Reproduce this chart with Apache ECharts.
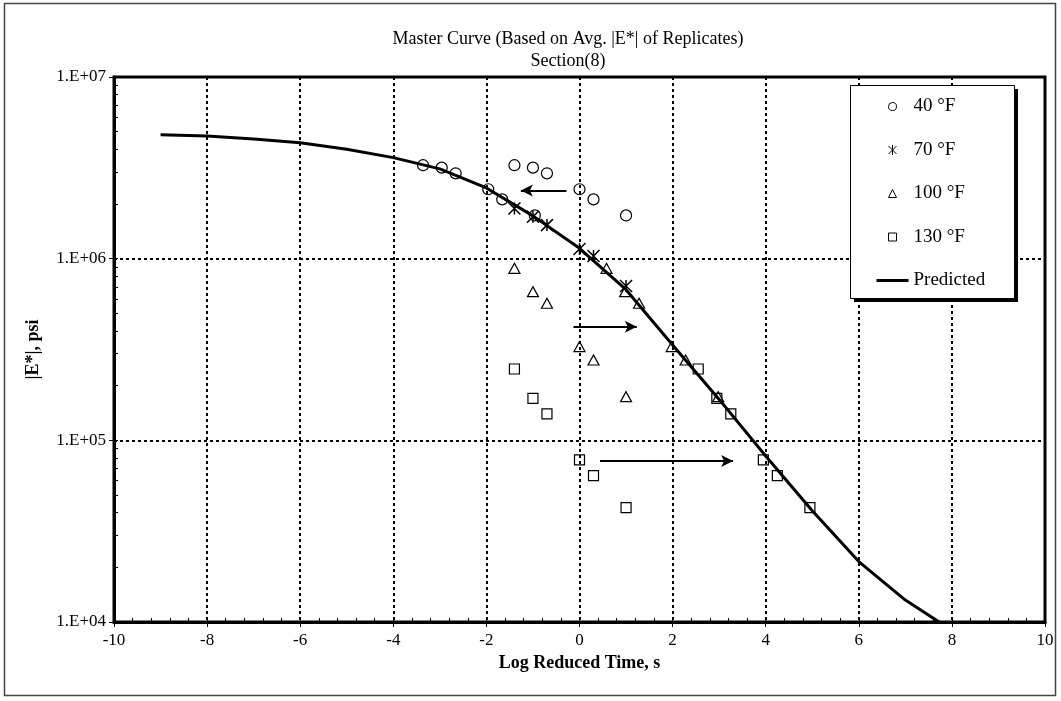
<!DOCTYPE html>
<html>
<head>
<meta charset="utf-8">
<script src="https://cdn.jsdelivr.net/npm/echarts@6/dist/echarts.min.js"></script>
<style>
html,body{margin:0;padding:0;background:#fff;}
#chart{width:1061px;height:701px;}
</style>
</head>
<body>
<div id="chart"></div>
<script>
// ---- data ----
const titleLines = ['Master Curve (Based on Avg. |E*| of Replicates)', 'Section(8)'];
const xAxisName = 'Log Reduced Time, s';
const yAxisName = '|E*|, psi';
const seriesNames = ['40 °F', '70 °F', '100 °F', '130 °F', 'Predicted'];

// raw log(time) of the test frequencies
const logTimeRaw = [-1.398, -1, -0.699, 0, 0.301, 1];

// measured |E*| (psi)
const E40 = [3.27e6, 3.17e6, 2.95e6, 2.41e6, 2.12e6, 1.73e6];
const E70 = [1.89e6, 1.70e6, 1.53e6, 1.13e6, 1.035e6, 7.08e5];
const E100 = [8.85e5, 6.58e5, 5.68e5, 3.28e5, 2.77e5, 1.74e5];
const E130 = [2.47e5, 1.70e5, 1.40e5, 7.80e4, 6.39e4, 4.26e4];

// shifted log reduced time
const x40Shifted = [-3.36, -2.96, -2.66, -1.96, -1.66, -0.96];
const x70Shifted = [-1.398, -1, -0.699, 0, 0.301, 1];
const x100Shifted = [0.58, 0.98, 1.28, 1.98, 2.28, 2.98];
const x130Shifted = [2.55, 2.95, 3.25, 3.95, 4.25, 4.95];

// predicted master curve
const predX = [-9, -8, -7, -6, -5, -4, -3, -2, -1, 0, 1, 2, 3, 4, 5, 6, 7, 8];
const predE = [4.81e6, 4.73e6, 4.56e6, 4.35e6, 4.0e6, 3.6e6, 3.12e6, 2.45e6, 1.72e6, 1.14e6,
               6.75e5, 3.35e5, 1.68e5, 8.2e4, 4.1e4, 2.15e4, 1.32e4, 9.0e3];

// shift arrows [x1, y1, x2, y2]
const arrow40 = [-0.28, 2.37e6, -1.26, 2.37e6];
const arrow100 = [-0.13, 4.22e5, 1.23, 4.22e5];
const arrow130 = [0.44, 7.7e4, 3.30, 7.7e4];

// axes
const xMin = -10, xMax = 10, xStep = 2;
const yMin = 1e4, yMax = 1e7;
const yTickValues = [1e4, 1e5, 1e6, 1e7];
const yTickLabels = ['1.E+04', '1.E+05', '1.E+06', '1.E+07'];

// minor tick positions
const xMinor = [];
for (let v = xMin; v <= xMax + 1e-9; v += 0.4) xMinor.push(Math.round(v * 10) / 10);
const yMinor = [];
for (let d = 4; d < 7; d++) for (let m = 1; m <= 10; m++) yMinor.push(m * Math.pow(10, d));

const pairs = (xs, ys) => xs.map((x, i) => [x, ys[i]]);

const FONT = '"Liberation Serif", "Times New Roman", serif';
const black = '#000';

const arrowLine = (a) => ({
  silent: true,
  animation: false,
  symbol: ['none', 'arrow'],
  symbolSize: [9, 12],
  label: { show: false },
  lineStyle: { color: black, width: 2, type: 'solid' },
  emphasis: { disabled: true },
  data: [[{ coord: [a[0], a[1]] }, { coord: [a[2], a[3]] }]]
});

const hollow = { color: 'rgba(255,255,255,0)', borderColor: black, borderWidth: 1.2, opacity: 1 };

// legend icons padded to the 32x10 legend box so they keep their shape
const iconCircle = 'path://M0,5M32,5M16,1A4,4,0,1,1,15.99,1Z';
const iconStar = 'path://M0,5M32,5M12,1L20,9M20,1L12,9M16,0L16,10';
const iconTri = 'path://M0,5M32,5M12,9L16,1L20,9Z';
const iconRect = 'path://M0,5M32,5M12,1L20,1L20,9L12,9Z';
const iconLine = 'path://M0,0L32,0L32,3L0,3Z';
const legendIconStyle = { color: 'rgba(255,255,255,0)', borderColor: black, borderWidth: 1 };

const chart = echarts.init(document.getElementById('chart'), null, { renderer: 'canvas' });
chart.setOption({
  animation: false,
  backgroundColor: '#fff',
  title: {
    text: titleLines.join('\n'),
    left: 568, top: 28, textAlign: 'center', padding: 0,
    textStyle: { fontFamily: FONT, fontSize: 18, fontWeight: 'normal', color: black, lineHeight: 22 }
  },
  graphic: [{
    type: 'rect', silent: true, z: -10,
    shape: { x: 4.5, y: 3.5, width: 1051, height: 692 },
    style: { fill: 'none', stroke: '#444', lineWidth: 1.5 }
  }, {
    type: 'rect', silent: true, z: 5,
    shape: { x: 854, y: 89, width: 164, height: 213 },
    style: { fill: black }
  }, {
    type: 'rect', silent: true, z: 6,
    shape: { x: 850.5, y: 85.5, width: 164, height: 213 },
    style: { fill: '#fff', stroke: black, lineWidth: 1 }
  }],
  legend: {
    z: 10,
    orient: 'vertical',
    left: 850, top: 85,
    padding: [12, 29, 12, 26],
    itemGap: 24.5,
    itemWidth: 32, itemHeight: 10,
    symbolKeepAspect: true,
    textStyle: { fontFamily: FONT, fontSize: 19, color: black, lineHeight: 18 },
    data: [
      { name: seriesNames[0], icon: iconCircle, itemStyle: legendIconStyle },
      { name: seriesNames[1], icon: iconStar, itemStyle: legendIconStyle },
      { name: seriesNames[2], icon: iconTri, itemStyle: legendIconStyle },
      { name: seriesNames[3], icon: iconRect, itemStyle: legendIconStyle },
      { name: seriesNames[4], icon: iconLine, itemStyle: { color: black, borderWidth: 0 } }
    ]
  },
  grid: {
    left: 114, right: 16, top: 77, bottom: 79,
    show: true, borderColor: black, borderWidth: 3, backgroundColor: 'transparent'
  },
  xAxis: [{
    type: 'value', min: xMin, max: xMax, interval: xStep,
    name: xAxisName, nameLocation: 'middle', nameGap: 32,
    nameTextStyle: { fontFamily: FONT, fontSize: 18, fontWeight: 'bold', color: black },
    axisLine: { show: true, onZero: false, lineStyle: { color: black, width: 3 } },
    axisTick: { show: true, inside: false, length: 5, lineStyle: { color: black, width: 1 } },
    axisLabel: { fontFamily: FONT, fontSize: 17, color: black, margin: 10 },
    splitLine: { show: true, lineStyle: { color: black, width: 2, type: [3, 3] } }
  }, {
    type: 'value', min: xMin, max: xMax, position: 'bottom', offset: 0,
    axisLine: { show: false, onZero: false },
    axisLabel: { show: false },
    splitLine: { show: false },
    axisTick: { show: true, inside: true, length: 4, customValues: xMinor, lineStyle: { color: black, width: 1 } }
  }],
  yAxis: [{
    type: 'log', logBase: 10, min: yMin, max: yMax,
    name: yAxisName, nameLocation: 'middle', nameGap: 72, nameRotate: 90,
    nameTextStyle: { fontFamily: FONT, fontSize: 18, fontWeight: 'bold', color: black },
    axisLine: { show: true, onZero: false, lineStyle: { color: black, width: 3 } },
    axisTick: { show: true, inside: false, length: 5, lineStyle: { color: black, width: 1 } },
    axisLabel: {
      fontFamily: FONT, fontSize: 17, color: black, margin: 8,
      formatter: (v) => {
        const i = yTickValues.findIndex(t => Math.abs(Math.log10(t) - Math.log10(v)) < 1e-6);
        return i >= 0 ? yTickLabels[i] : '';
      }
    },
    splitLine: { show: true, lineStyle: { color: black, width: 2, type: [3, 3] } }
  }, {
    type: 'log', logBase: 10, min: yMin, max: yMax, position: 'left', offset: 0,
    axisLine: { show: false, onZero: false },
    axisLabel: { show: false },
    splitLine: { show: false },
    axisTick: { show: true, inside: true, length: 4, customValues: yMinor, lineStyle: { color: black, width: 1 } }
  }],
  series: [
    {
      name: seriesNames[0], type: 'scatter', symbol: 'circle', symbolSize: 11,
      itemStyle: hollow, z: 3,
      data: pairs(logTimeRaw, E40).concat(pairs(x40Shifted, E40)),
      markLine: arrowLine(arrow40)
    },
    {
      name: seriesNames[1], type: 'scatter',
      symbol: 'path://M0,0L10,10M10,0L0,10M5,0L5,10', symbolSize: 12,
      itemStyle: { color: 'rgba(255,255,255,0)', borderColor: black, borderWidth: 1.5, opacity: 1 }, z: 4,
      data: pairs(x70Shifted, E70)
    },
    {
      name: seriesNames[2], type: 'scatter', symbol: 'triangle', symbolSize: [11, 10],
      itemStyle: hollow, z: 3,
      data: pairs(logTimeRaw, E100).concat(pairs(x100Shifted, E100)),
      markLine: arrowLine(arrow100)
    },
    {
      name: seriesNames[3], type: 'scatter', symbol: 'rect', symbolSize: 10,
      itemStyle: hollow, z: 3,
      data: pairs(logTimeRaw, E130).concat(pairs(x130Shifted, E130)),
      markLine: arrowLine(arrow130)
    },
    {
      name: seriesNames[4], type: 'line', symbol: 'none', smooth: false, clip: true,
      lineStyle: { color: black, width: 3 }, itemStyle: { color: black }, z: 2,
      data: pairs(predX, predE)
    }
  ]
});
</script>
</body>
</html>
